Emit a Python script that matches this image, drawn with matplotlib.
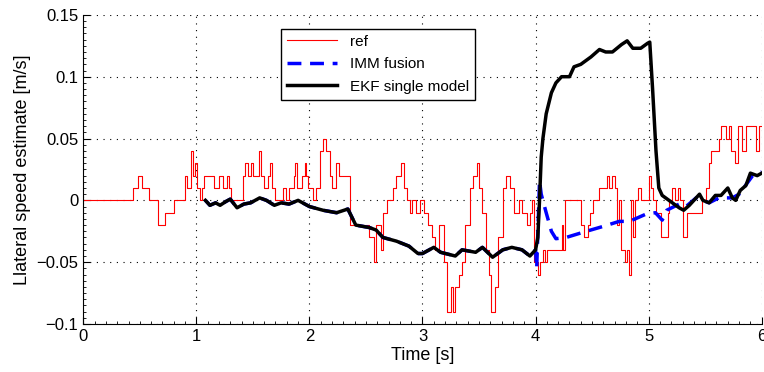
import matplotlib
matplotlib.use("Agg")
import matplotlib.pyplot as plt
import numpy as np
from matplotlib.ticker import MultipleLocator

plt.rcParams['font.family'] = ['Liberation Sans', 'DejaVu Sans']

# reference lateral speed (step signal, breakpoints)
ref_t = [0.0, 0.44, 0.48, 0.52, 0.58, 0.66, 0.72, 0.80, 0.90, 0.92, 0.95, 0.97, 0.99,
         1.01, 1.03, 1.05, 1.07, 1.16, 1.20, 1.24, 1.27, 1.29, 1.31, 1.41, 1.43, 1.46,
         1.48, 1.50, 1.55, 1.57, 1.60, 1.63, 1.65, 1.67, 1.70, 1.77, 1.79, 1.82, 1.86,
         1.87, 1.89, 1.93, 1.96, 1.97, 1.985, 2.03, 2.06, 2.09, 2.12, 2.15, 2.18, 2.20,
         2.235, 2.26, 2.36, 2.53, 2.57, 2.59, 2.63, 2.65, 2.69, 2.735, 2.77, 2.81, 2.84,
         2.86, 2.89, 2.91, 2.94, 2.98, 3.01, 3.05, 3.08, 3.11, 3.15, 3.19, 3.22, 3.25,
         3.27, 3.29, 3.32, 3.35, 3.38, 3.42, 3.45, 3.485, 3.50, 3.53, 3.56, 3.59, 3.61,
         3.64, 3.67, 3.71, 3.74, 3.77, 3.81, 3.85, 3.88, 3.92, 3.95, 3.97, 3.99, 4.02,
         4.04, 4.065, 4.08, 4.10, 4.23, 4.24, 4.26, 4.40, 4.43, 4.46, 4.48, 4.51, 4.56,
         4.63, 4.65, 4.68, 4.70, 4.72, 4.74, 4.76, 4.79, 4.81, 4.83, 4.84, 4.86, 4.88,
         4.91, 4.93, 5.00, 5.02, 5.04, 5.065, 5.11, 5.17, 5.18, 5.21, 5.23, 5.26, 5.28,
         5.30, 5.34, 5.47, 5.51, 5.53, 5.55, 5.62, 5.64, 5.68, 5.71, 5.73, 5.76, 5.79,
         5.83, 5.86, 5.95, 5.98, 6.0]
ref_v = [0.0, 0.01, 0.02, 0.01, 0.0, -0.02, -0.01, 0.0, 0.02, 0.01, 0.04, 0.02, 0.03,
         0.01, 0.0, 0.01, 0.02, 0.01, 0.02, 0.01, 0.02, 0.01, 0.0, 0.02, 0.03, 0.02,
         0.03, 0.02, 0.04, 0.02, 0.01, 0.02, 0.03, 0.01, 0.0, 0.01, 0.0, 0.01, 0.02,
         0.03, 0.01, 0.02, 0.03, 0.02, 0.01, 0.0, 0.01, 0.04, 0.05, 0.04, 0.02, 0.01,
         0.03, 0.02, -0.02, -0.03, -0.05, -0.02, -0.04, -0.01, 0.0, 0.01, 0.02, 0.03, 0.01,
         0.0, -0.01, 0.0, -0.01, 0.0, -0.01, -0.02, -0.03, -0.04, -0.02, -0.05, -0.09, -0.07,
         -0.09, -0.07, -0.06, -0.05, -0.02, 0.01, 0.02, 0.03, 0.01, -0.01, -0.04, -0.06, -0.09,
         -0.07, -0.03, 0.01, 0.02, 0.01, -0.01, 0.0, -0.01, -0.02, -0.01, 0.0, -0.05, -0.06,
         -0.05, -0.04, -0.05, -0.04, -0.02, -0.04, 0.0, -0.02, -0.03, -0.02, -0.01, 0.0, 0.01,
         0.02, 0.01, 0.02, 0.01, -0.02, 0.0, -0.04, -0.05, -0.04, -0.06, 0.0, -0.03, 0.0,
         0.01, 0.0, 0.02, 0.01, 0.0, -0.01, -0.03, -0.01, 0.0, 0.01, 0.0, 0.01, 0.0,
         -0.03, -0.01, 0.0, 0.01, 0.03, 0.04, 0.05, 0.06, 0.05, 0.06, 0.04, 0.03, 0.06,
         0.04, 0.06, 0.04, 0.06, 0.06]

# estimates before the change at t=4 (both filters agree)
common_t = [1.08, 1.12, 1.17, 1.21, 1.26, 1.30, 1.36, 1.42, 1.48, 1.56, 1.62, 1.69, 1.75,
            1.82, 1.90, 2.0, 2.12, 2.24, 2.34, 2.41, 2.53, 2.59, 2.65, 2.77, 2.88, 2.96,
            3.0, 3.10, 3.16, 3.29, 3.35, 3.47, 3.53, 3.62, 3.71, 3.79, 3.88, 3.95, 4.0]
common_v = [0.0, -0.004, -0.002, -0.004, -0.001, 0.001, -0.006, -0.003, -0.002, 0.002, 0.0,
            -0.004, -0.002, -0.003, 0.0, -0.005, -0.008, -0.010, -0.007, -0.020, -0.022,
            -0.024, -0.030, -0.033, -0.037, -0.043, -0.043, -0.038, -0.042, -0.045, -0.040,
            -0.042, -0.038, -0.046, -0.040, -0.038, -0.040, -0.045, -0.040]

# EKF single model after t=4
ekf_t = [4.02, 4.035, 4.05, 4.065, 4.094, 4.14, 4.18, 4.23, 4.30, 4.34, 4.40, 4.49, 4.565,
         4.62, 4.68, 4.76, 4.81, 4.86, 4.93, 4.99, 5.01, 5.035, 5.065, 5.09, 5.12, 5.15,
         5.21, 5.27, 5.31, 5.36, 5.42, 5.45, 5.48, 5.535, 5.59, 5.64, 5.70, 5.74, 5.77,
         5.81, 5.86, 5.90, 5.96, 6.0]
ekf_v = [-0.030, 0.0, 0.035, 0.050, 0.070, 0.087, 0.095, 0.100, 0.100, 0.108, 0.110,
         0.116, 0.122, 0.120, 0.120, 0.126, 0.129, 0.123, 0.123, 0.127, 0.128, 0.090,
         0.040, 0.010, 0.004, 0.002, -0.002, -0.006, -0.008, -0.004, 0.002, 0.005, 0.0,
         -0.002, 0.004, 0.004, 0.010, 0.002, 0.0, 0.008, 0.012, 0.022, 0.020, 0.022]

# IMM fusion after t=4
imm_t = [4.01, 4.035, 4.05, 4.094, 4.14, 4.18, 4.27, 4.45, 4.60, 4.74, 4.83, 4.98, 5.06,
         5.12, 5.16, 5.27, 5.33, 5.42, 5.535, 5.62, 5.74, 5.80, 5.92, 6.0]
imm_v = [-0.055, 0.016, 0.005, -0.010, -0.025, -0.031, -0.030, -0.025, -0.021, -0.017,
         -0.017, -0.011, -0.010, -0.016, -0.008, -0.003, -0.005, 0.002, -0.002, 0.002,
         0.002, 0.005, 0.020, 0.023]

fig, ax = plt.subplots(figsize=(7.64, 3.72), dpi=100)
fig.subplots_adjust(left=0.109, right=0.997, top=0.96, bottom=0.129)

ax.step(ref_t, ref_v, where='post', color='red', linewidth=0.8, label='ref')
ax.plot(common_t + imm_t, common_v + imm_v, color='blue', linestyle='--',
        linewidth=2.5, dashes=(4, 2.5), label='IMM fusion')
ax.plot(common_t + ekf_t, common_v + ekf_v, color='black', linewidth=2.5,
        label='EKF single model')

ax.set_xlim(0, 6)
ax.set_ylim(-0.1, 0.15)
ax.set_xticks(np.arange(0, 7, 1))
ax.set_yticks([-0.1, -0.05, 0, 0.05, 0.1, 0.15])
ax.set_yticklabels(['\u22120.1', '\u22120.05', '0', '0.05', '0.1', '0.15'])
ax.xaxis.set_minor_locator(MultipleLocator(0.1))
ax.yaxis.set_minor_locator(MultipleLocator(0.005))
ax.tick_params(which='both', direction='in', labelsize=12)
ax.tick_params(which='major', length=5)
ax.tick_params(which='minor', length=2.5)
ax.tick_params(top=False, right=False, which='both')
ax.spines['top'].set_visible(False)
ax.spines['right'].set_visible(False)
ax.grid(True, which='major', linestyle=(0, (1, 5)), color='black', linewidth=0.8)

ax.set_xlabel('Time [s]', fontsize=13, labelpad=2)
ax.set_ylabel('Llateral speed estimate [m/s]', fontsize=13)

leg = ax.legend(loc='upper left', bbox_to_anchor=(0.28, 0.98), fontsize=11,
                fancybox=False, framealpha=1, edgecolor='black',
                handlelength=3.3, borderpad=0.4, labelspacing=0.55)
leg.get_frame().set_linewidth(1.0)

fig.savefig('out.png', dpi=100)
